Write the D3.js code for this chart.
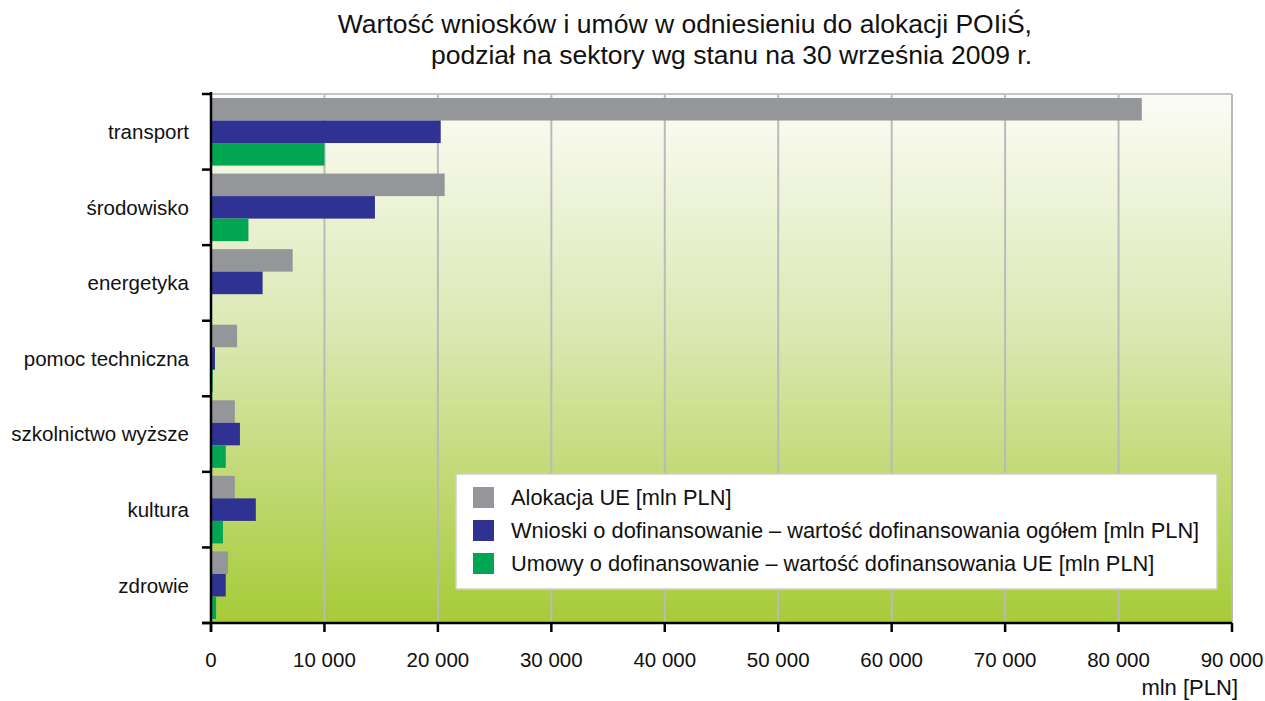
<!DOCTYPE html>
<html lang="pl">
<head>
<meta charset="utf-8">
<script src="https://d3js.org/d3.v7.min.js"></script>
<style>
  body { margin: 0; background: #fff; }
  text { font-family: "Liberation Sans", Arial, sans-serif; fill: #111; }
</style>
</head>
<body>
<script>
  var width = 1265, height = 701;

  // data (mln PLN)
  var categories = ['transport', 'środowisko', 'energetyka', 'pomoc techniczna', 'szkolnictwo wyższe', 'kultura', 'zdrowie'];
  var alokacja = [82050, 20600, 7200, 2300, 2100, 2100, 1500];
  var wnioski = [20250, 14450, 4550, 350, 2550, 3950, 1300];
  var umowy = [10000, 3300, 0, 150, 1300, 1050, 450];
  var seriesNames = ['Alokacja UE [mln PLN]',
    'Wnioski o dofinansowanie – wartość dofinansowania ogółem [mln PLN]',
    'Umowy o dofinansowanie – wartość dofinansowania UE [mln PLN]'];
  var seriesColors = ['#95969a', '#2f3292', '#00a651'];
  var xTicks = [0, 10000, 20000, 30000, 40000, 50000, 60000, 70000, 80000, 90000];
  var titleLines = ['Wartość wniosków i umów w odniesieniu do alokacji POIiŚ,', 'podział na sektory wg stanu na 30 września 2009 r.'];

  var series = [alokacja, wnioski, umowy];
  var margin = {left: 211, right: 33, top: 94, bottom: 78};
  var plotW = width - margin.left - margin.right;
  var plotH = height - margin.top - margin.bottom;

  var svg = d3.select('body').append('svg').attr('width', width).attr('height', height);

  var defs = svg.append('defs');
  var grad = defs.append('linearGradient').attr('id', 'bg').attr('x1', 0).attr('y1', 0).attr('x2', 0).attr('y2', 1);
  grad.append('stop').attr('offset', '0%').attr('stop-color', '#fbfcf6');
  grad.append('stop').attr('offset', '45%').attr('stop-color', '#dbe8b2');
  grad.append('stop').attr('offset', '100%').attr('stop-color', '#a6cb38');

  var x = d3.scaleLinear().domain([0, 90000]).range([0, plotW]);
  var y = d3.scaleBand().domain(categories).range([0, plotH]).paddingInner(0).paddingOuter(0);
  var ySub = d3.scaleBand().domain([0, 1, 2]).range([4, y.bandwidth() - 4]);

  // title (both lines end at the same x in the original)
  svg.selectAll('.title').data(titleLines).join('text')
    .attr('class', 'title')
    .attr('x', 1032).attr('y', function(d, i) { return 33 + i * 31; })
    .attr('text-anchor', 'end')
    .style('font-size', '26.5px')
    .text(function(d) { return d; });

  var g = svg.append('g').attr('transform', 'translate(' + margin.left + ',' + margin.top + ')');

  g.append('rect').attr('width', plotW).attr('height', plotH).attr('fill', 'url(#bg)');

  // gridlines
  g.selectAll('.grid').data(xTicks.slice(1)).join('line')
    .attr('class', 'grid')
    .attr('x1', function(d) { return x(d); }).attr('x2', function(d) { return x(d); })
    .attr('y1', 0).attr('y2', plotH)
    .attr('stroke', '#bababa').attr('stroke-width', 2);
  g.append('line').attr('x1', 0).attr('x2', plotW).attr('y1', 0).attr('y2', 0)
    .attr('stroke', '#c4c4c4').attr('stroke-width', 2);

  // bars
  series.forEach(function(vals, si) {
    g.selectAll('.bar' + si).data(categories).join('rect')
      .attr('class', 'bar' + si)
      .attr('x', 0)
      .attr('y', function(d) { return y(d) + ySub(si); })
      .attr('width', function(d, i) { return x(vals[i]); })
      .attr('height', ySub.bandwidth())
      .attr('fill', seriesColors[si]);
  });

  // axes
  var yAxis = g.append('g');
  yAxis.append('line').attr('x1', 0).attr('x2', 0).attr('y1', -2).attr('y2', plotH + 9)
    .attr('stroke', '#000').attr('stroke-width', 2.5);
  var bounds = categories.map(function(c) { return y(c); }).concat([plotH]);
  yAxis.selectAll('.ytick').data(bounds).join('line')
    .attr('class', 'ytick')
    .attr('x1', -9).attr('x2', 0)
    .attr('y1', function(d) { return d; }).attr('y2', function(d) { return d; })
    .attr('stroke', '#000').attr('stroke-width', 2.5);
  yAxis.selectAll('.ylab').data(categories).join('text')
    .attr('class', 'ylab')
    .attr('x', -22).attr('y', function(d) { return y(d) + y.bandwidth() / 2; })
    .attr('dy', '0.36em')
    .attr('text-anchor', 'end')
    .style('font-size', '20.5px')
    .text(function(d) { return d; });

  var fmt = function(d) { return d3.format(',')(d).replace(/,/g, ' '); };
  var xAxis = g.append('g').attr('transform', 'translate(0,' + plotH + ')');
  xAxis.append('line').attr('x1', -9).attr('x2', plotW).attr('y1', 0).attr('y2', 0)
    .attr('stroke', '#000').attr('stroke-width', 2.5);
  xAxis.selectAll('.xtick').data(xTicks).join('line')
    .attr('class', 'xtick')
    .attr('x1', function(d) { return x(d); }).attr('x2', function(d) { return x(d); })
    .attr('y1', 0).attr('y2', 9)
    .attr('stroke', '#000').attr('stroke-width', 2.5);
  xAxis.selectAll('.xlab').data(xTicks).join('text')
    .attr('class', 'xlab')
    .attr('x', function(d) { return x(d); }).attr('y', 44)
    .attr('text-anchor', 'middle')
    .style('font-size', '20.5px')
    .text(fmt);
  xAxis.append('text').attr('x', plotW + 6).attr('y', 72)
    .attr('text-anchor', 'end').style('font-size', '22px').text('mln [PLN]');

  // legend
  var legend = svg.append('g').attr('transform', 'translate(456,474)');
  legend.append('rect').attr('width', 761).attr('height', 115)
    .attr('fill', '#fff').attr('stroke', '#cfcfcf').attr('stroke-width', 1.5);
  var items = legend.selectAll('.item').data(seriesNames).join('g')
    .attr('class', 'item')
    .attr('transform', function(d, i) { return 'translate(0,' + (23 + i * 33) + ')'; });
  items.append('rect').attr('x', 17).attr('y', -10).attr('width', 21).attr('height', 21)
    .attr('fill', function(d, i) { return seriesColors[i]; });
  items.append('text').attr('x', 55).attr('dy', '0.36em')
    .style('font-size', '21.8px')
    .text(function(d) { return d; });
</script>
</body>
</html>
